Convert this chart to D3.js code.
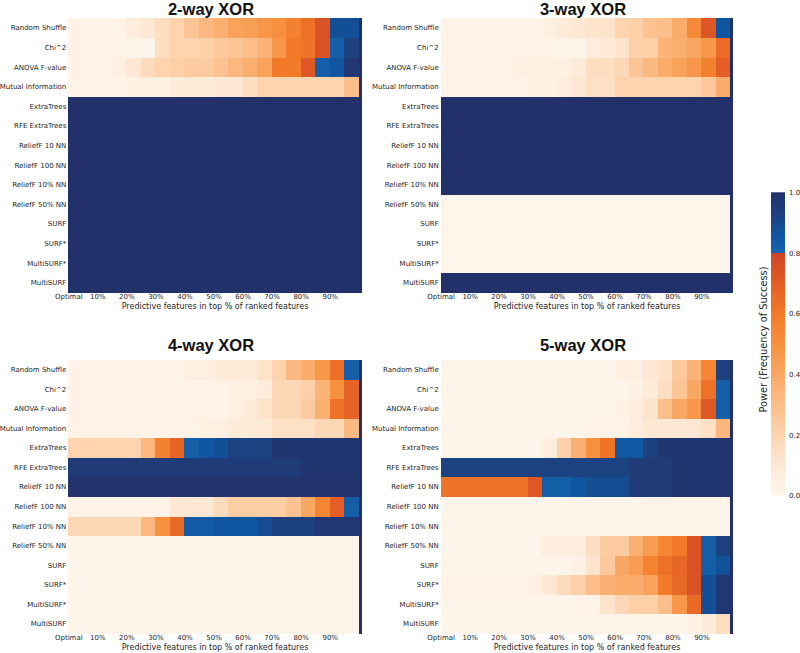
<!DOCTYPE html>
<html lang="en">
<head>
<meta charset="utf-8">
<script src="https://d3js.org/d3.v7.min.js"></script>
<style type="text/css">

body {
	margin: 0;
	background-color: #ffffff;
}

.axis text {
	font-family: "DejaVu Sans", sans-serif;
	font-size: 7px;
	fill: #262626;
}

.axis path, .axis line {
	display: none;
}

.title {
	font-family: "Liberation Sans", Arial, sans-serif;
	font-weight: bold;
	font-size: 16.5px;
	fill: #111;
}

.xlabel {
	font-family: "DejaVu Sans", sans-serif;
	font-size: 8px;
	fill: #262626;
}

.cblabel {
	font-family: "DejaVu Sans", sans-serif;
	font-size: 9.8px;
	fill: #262626;
}

</style>
</head>
<body>
<script type="text/javascript">

// row labels (algorithms)
var rows = ["Random Shuffle", "Chi^2", "ANOVA F-value", "Mutual Information", "ExtraTrees",
	"RFE ExtraTrees", "ReliefF 10 NN", "ReliefF 100 NN", "ReliefF 10% NN", "ReliefF 50% NN",
	"SURF", "SURF*", "MultiSURF*", "MultiSURF"];

// column edges in % of ranked features (5% blocks + final 100% column)
var edges = [0, 5, 10, 15, 20, 25, 30, 35, 40, 45, 50, 55, 60, 65, 70, 75, 80, 85, 90, 95, 100, 101];

// x tick labels
var xticks = [0, 10, 20, 30, 40, 50, 60, 70, 80, 90];
var xtickLabels = ["Optimal", "10%", "20%", "30%", "40%", "50%", "60%", "70%", "80%", "90%"];

// colorbar ticks
var cbTicks = [0, 0.2, 0.4, 0.6, 0.8, 1.0];

// power values, one row per algorithm, one value per column
var xor2 = [
	[.02,.02,.02,.02,.06,.10,.15,.20,.27,.33,.37,.42,.43,.47,.50,.57,.63,.74,.88,.88,1],
	[.02,.02,.02,.02,.01,.01,.15,.20,.20,.22,.25,.27,.30,.35,.47,.60,.62,.74,.82,.93,1],
	[.02,.02,.02,.04,.10,.17,.20,.22,.24,.24,.28,.33,.37,.42,.60,.60,.72,.82,.86,.97,1],
	[.02,.02,.02,.02,.04,.04,.04,.07,.07,.07,.10,.10,.15,.20,.20,.20,.20,.20,.20,.30,1],
	[1,1,1,1,1,1,1,1,1,1,1,1,1,1,1,1,1,1,1,1,1],
	[1,1,1,1,1,1,1,1,1,1,1,1,1,1,1,1,1,1,1,1,1],
	[1,1,1,1,1,1,1,1,1,1,1,1,1,1,1,1,1,1,1,1,1],
	[1,1,1,1,1,1,1,1,1,1,1,1,1,1,1,1,1,1,1,1,1],
	[1,1,1,1,1,1,1,1,1,1,1,1,1,1,1,1,1,1,1,1,1],
	[1,1,1,1,1,1,1,1,1,1,1,1,1,1,1,1,1,1,1,1,1],
	[1,1,1,1,1,1,1,1,1,1,1,1,1,1,1,1,1,1,1,1,1],
	[1,1,1,1,1,1,1,1,1,1,1,1,1,1,1,1,1,1,1,1,1],
	[1,1,1,1,1,1,1,1,1,1,1,1,1,1,1,1,1,1,1,1,1],
	[1,1,1,1,1,1,1,1,1,1,1,1,1,1,1,1,1,1,1,1,1]
];

var xor3 = [
	[.02,.02,.02,.02,.02,.02,.02,.05,.08,.10,.12,.12,.20,.22,.28,.30,.38,.53,.73,.86,1],
	[.02,.02,.02,.02,.02,.02,.02,.02,.01,.01,.06,.09,.12,.22,.22,.35,.37,.40,.47,.65,1],
	[.02,.02,.02,.02,.02,.04,.04,.04,.04,.08,.15,.15,.18,.27,.32,.38,.42,.47,.57,.70,1],
	[.02,.02,.02,.02,.02,.02,.04,.04,.06,.10,.14,.14,.20,.20,.20,.20,.20,.20,.25,.38,1],
	[1,1,1,1,1,1,1,1,1,1,1,1,1,1,1,1,1,1,1,1,1],
	[1,1,1,1,1,1,1,1,1,1,1,1,1,1,1,1,1,1,1,1,1],
	[1,1,1,1,1,1,1,1,1,1,1,1,1,1,1,1,1,1,1,1,1],
	[1,1,1,1,1,1,1,1,1,1,1,1,1,1,1,1,1,1,1,1,1],
	[1,1,1,1,1,1,1,1,1,1,1,1,1,1,1,1,1,1,1,1,1],
	[0,0,0,0,0,0,0,0,0,0,0,0,0,0,0,0,0,0,0,0,1],
	[0,0,0,0,0,0,0,0,0,0,0,0,0,0,0,0,0,0,0,0,1],
	[0,0,0,0,0,0,0,0,0,0,0,0,0,0,0,0,0,0,0,0,1],
	[0,0,0,0,0,0,0,0,0,0,0,0,0,0,0,0,0,0,0,0,1],
	[1,1,1,1,1,1,1,1,1,1,1,1,1,1,1,1,1,1,1,1,1]
];

var xor4 = [
	[.02,.02,.02,.02,.02,.02,.02,.02,.05,.05,.08,.08,.08,.13,.20,.32,.38,.47,.64,.82,1],
	[.02,.02,.02,.02,.02,.02,.02,.02,.02,.02,.02,.04,.04,.08,.18,.18,.22,.35,.50,.68,1],
	[.02,.02,.02,.02,.02,.02,.02,.02,.02,.02,.02,.04,.08,.13,.18,.18,.24,.36,.63,.68,1],
	[.02,.02,.02,.02,.02,.02,.02,.02,.02,.04,.04,.07,.07,.09,.14,.14,.14,.18,.18,.32,1],
	[.20,.20,.20,.20,.20,.33,.57,.68,.82,.86,.88,.92,.92,.92,.98,.98,.98,.98,.98,.98,1],
	[.95,.95,.95,.95,.95,.95,.95,.95,.95,.95,.95,.95,.95,.95,.95,.95,.98,.98,.98,.98,1],
	[.99,.99,.99,.99,.99,.99,.99,.99,.99,.99,.99,.99,.99,.99,.99,.99,.99,.99,.99,.99,1],
	[.02,.02,.02,.02,.02,.02,.02,.10,.10,.10,.16,.23,.23,.23,.23,.28,.40,.55,.70,.83,1],
	[.18,.18,.18,.18,.18,.33,.50,.66,.84,.84,.86,.86,.86,.89,.93,.93,.93,.97,.97,.97,1],
	[.01,.01,.01,.01,.01,.01,.01,.01,.01,.01,.01,.01,.01,.01,.01,.01,.01,.01,.01,.01,1],
	[.01,.01,.01,.01,.01,.01,.01,.01,.01,.01,.01,.01,.01,.01,.01,.01,.01,.01,.01,.01,1],
	[.01,.01,.01,.01,.01,.01,.01,.01,.01,.01,.01,.01,.01,.01,.01,.01,.01,.01,.01,.01,1],
	[.01,.01,.01,.01,.01,.01,.01,.01,.01,.01,.01,.01,.01,.01,.01,.01,.01,.01,.01,.01,1],
	[.01,.01,.01,.01,.01,.01,.01,.01,.01,.01,.01,.01,.01,.01,.01,.01,.01,.01,.01,.01,1]
];

var xor5 = [
	[.01,.01,.01,.01,.01,.01,.01,.01,.01,.01,.01,.01,.05,.05,.10,.13,.25,.35,.55,.93,1],
	[.01,.01,.01,.01,.01,.01,.01,.01,.01,.01,.01,.01,.01,.03,.08,.15,.27,.40,.63,.82,1],
	[.01,.01,.01,.01,.01,.01,.01,.01,.01,.01,.01,.01,.03,.06,.12,.30,.40,.47,.72,.82,1],
	[.01,.01,.01,.01,.01,.01,.01,.01,.01,.01,.02,.02,.02,.06,.10,.10,.10,.10,.14,.33,1],
	[.01,.01,.01,.01,.01,.01,.01,.06,.22,.36,.50,.62,.85,.85,.93,.98,.98,.98,.98,.98,1],
	[.92,.92,.92,.92,.92,.92,.92,.92,.92,.92,.92,.92,.92,.95,.95,.95,.98,.98,.98,.98,1],
	[.62,.62,.62,.62,.62,.62,.72,.83,.83,.86,.89,.89,.89,.95,.95,.95,.98,.98,.98,.98,1],
	[.01,.01,.01,.01,.01,.01,.01,.01,.01,.01,.01,.01,.01,.01,.01,.01,.01,.01,.01,.02,1],
	[.01,.01,.01,.01,.01,.01,.01,.01,.01,.01,.01,.01,.01,.01,.01,.01,.01,.01,.01,.02,1],
	[.01,.01,.01,.01,.01,.01,.01,.06,.06,.06,.15,.24,.24,.37,.45,.55,.60,.74,.83,.93,1],
	[.01,.01,.01,.01,.01,.01,.01,.01,.01,.03,.12,.25,.40,.45,.56,.63,.67,.74,.83,.87,1],
	[.02,.02,.02,.02,.02,.02,.05,.10,.17,.22,.30,.36,.38,.38,.42,.60,.66,.74,.88,.97,1],
	[.01,.01,.01,.01,.01,.01,.01,.01,.01,.02,.02,.12,.18,.22,.22,.30,.47,.66,.88,.97,1],
	[.01,.01,.01,.01,.01,.01,.01,.01,.01,.01,.01,.01,.01,.01,.01,.01,.01,.03,.07,.15,1]
];

var width = 800;
var height = 653;

// orange ramp below 0.8, blue ramp above (stops)
var orangeScale = d3.scaleLinear()
	.domain([0, 0.1, 0.2, 0.3, 0.4, 0.5, 0.6, 0.7, 0.8])
	.range(["#fff5eb", "#fee8d4", "#fdd4ae", "#fcbe8a", "#f9a763", "#f7903f", "#f37a29", "#e35d25", "#cc4529"]);

var blueScale = d3.scaleLinear()
	.domain([0.8, 0.86, 0.92, 1.0])
	.range(["#1864ae", "#0f55a0", "#1c4282", "#23316a"]);

function color(v) {
	return v < 0.8 ? orangeScale(v) : blueScale(v);
}

var svg = d3.select("body")
	.append("svg")
	.attr("width", width)
	.attr("height", height);

// panel placement
var panels = [
	{ title: "2-way XOR", data: xor2, x0: 68.3, x1: 361.7, y0: 18.3, y1: 292.7, ty: 14.6 },
	{ title: "3-way XOR", data: xor3, x0: 440.7, x1: 733.3, y0: 18.3, y1: 292.7, ty: 14.6 },
	{ title: "4-way XOR", data: xor4, x0: 68.3, x1: 361.7, y0: 360, y1: 634, ty: 351 },
	{ title: "5-way XOR", data: xor5, x0: 440.7, x1: 733.3, y0: 360, y1: 634, ty: 351 }
];

panels.forEach(function(p) {
	var x = d3.scaleLinear().domain([0, 101]).range([p.x0, p.x1]);
	var y = d3.scaleBand().domain(rows).range([p.y0, p.y1]);

	var g = svg.append("g");

	// one rect per cell
	p.data.forEach(function(row, i) {
		g.selectAll(null)
			.data(row)
			.enter()
			.append("rect")
			.attr("x", function(d, j) { return x(edges[j]); })
			.attr("y", y(rows[i]))
			.attr("width", function(d, j) { return x(edges[j + 1]) - x(edges[j]); })
			.attr("height", y.bandwidth())
			.attr("shape-rendering", "crispEdges")
			.style("fill", function(d) { return color(d); });
	});

	g.append("g")
		.attr("class", "axis")
		.attr("transform", "translate(" + p.x0 + ",0)")
		.call(d3.axisLeft(y).tickSize(0).tickPadding(2));

	g.append("g")
		.attr("class", "axis")
		.attr("transform", "translate(0," + p.y1 + ")")
		.call(d3.axisBottom(x).tickValues(xticks)
			.tickFormat(function(d, i) { return xtickLabels[i]; })
			.tickSize(0).tickPadding(1.2));

	g.append("text")
		.attr("class", "xlabel")
		.attr("x", (p.x0 + p.x1) / 2)
		.attr("y", p.y1 + 16)
		.attr("text-anchor", "middle")
		.text("Predictive features in top % of ranked features");

	g.append("text")
		.attr("class", "title")
		.attr("x", (p.x0 + p.x1) / 2 - 4)
		.attr("y", p.ty)
		.attr("text-anchor", "middle")
		.text(p.title);
});

// colorbar
var cbX = 771, cbW = 14, cbTop = 192.3, cbBottom = 495.5;

var grad = svg.append("defs")
	.append("linearGradient")
	.attr("id", "cbgrad")
	.attr("x1", "0%").attr("y1", "100%")
	.attr("x2", "0%").attr("y2", "0%");

d3.range(0, 81).forEach(function(k) {
	var v = Math.min(k / 100, 0.7999);
	grad.append("stop").attr("offset", (v * 100) + "%").attr("stop-color", color(v));
});
d3.range(80, 101).forEach(function(k) {
	var v = k / 100;
	grad.append("stop").attr("offset", (v * 100) + "%").attr("stop-color", color(v));
});

svg.append("rect")
	.attr("x", cbX)
	.attr("y", cbTop)
	.attr("width", cbW)
	.attr("height", cbBottom - cbTop)
	.style("fill", "url(#cbgrad)");

var cy = d3.scaleLinear().domain([0, 1]).range([cbBottom, cbTop]);

svg.append("g")
	.attr("class", "axis")
	.attr("transform", "translate(" + (cbX + cbW) + ",0)")
	.call(d3.axisRight(cy).tickValues(cbTicks).tickFormat(d3.format(".1f")).tickSize(0).tickPadding(4));

svg.append("text")
	.attr("class", "cblabel")
	.attr("transform", "translate(767,339.5) rotate(-90)")
	.attr("text-anchor", "middle")
	.text("Power (Frequency of Success)");

</script>
</body>
</html>
